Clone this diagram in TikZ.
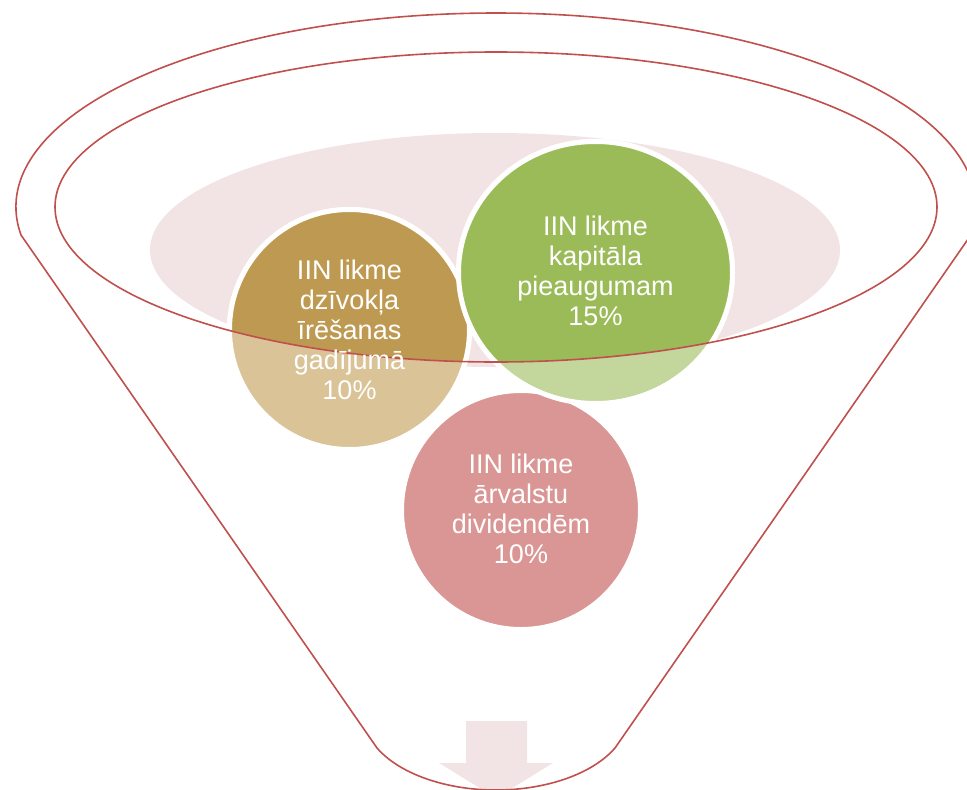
\documentclass[tikz,border=0pt]{standalone}
\usepackage{fontspec}
\setmainfont{Liberation Sans}
\usetikzlibrary{shapes.geometric}
\definecolor{funnelred}{RGB}{192,80,77}
\definecolor{pinkfill}{RGB}{242,228,228}
\definecolor{goldfull}{RGB}{190,153,81}
\definecolor{goldlight}{RGB}{217,195,151}
\definecolor{greenfull}{RGB}{155,187,89}
\definecolor{greenlight}{RGB}{195,214,155}
\definecolor{redlight}{RGB}{217,150,148}
\tikzset{
  funnelline/.style={draw=funnelred, line width=1.6pt},
  bubble/.style={draw=white, line width=5pt},
  bubbletext/.style={text=white, align=center, inner sep=0pt,
    font=\fontsize{27}{30}\selectfont},
}
\begin{document}
\begin{tikzpicture}[x=1pt,y=-1pt]
\useasboundingbox (0,0) rectangle (967,790);
\clip (0,0) rectangle (967,790);
% pink top ellipse
\fill[pinkfill] (495,250) ellipse [x radius=345, y radius=117];
% light (outside the funnel mouth) bubbles
\path[bubble, fill=goldlight] (349.5,329.5) circle [radius=120];
\path[bubble, fill=redlight] (521,510) circle [radius=119.5];
\path[bubble, fill=greenlight] (595.5,272.5) ellipse [x radius=137, y radius=131];
% full-colour parts inside the funnel mouth
\begin{scope}
  \clip (496,207) ellipse [x radius=441, y radius=155];
  \path[bubble, fill=goldfull] (349.5,329.5) circle [radius=120];
  \path[bubble, fill=greenfull] (595.5,272.5) ellipse [x radius=137, y radius=131];
\end{scope}
% arrow
\fill[pinkfill] (466,721) -- (527,721) -- (527,763) -- (553,763) -- (496,798)
  -- (439,763) -- (466,763) -- cycle;
% funnel outlines
\draw[funnelline] (21,235) arc[start angle=171.7, end angle=368.3, x radius=480, y radius=194]
  -- (615,748) arc[start angle=26.1, end angle=153.9, x radius=132.5, y radius=75] -- cycle;
\draw[funnelline] (496,207) ellipse [x radius=441, y radius=155];
% texts
\node[bubbletext] (tgold) at (349.5,329.5) {IIN likme\\dzīvokļa\\īrēšanas\\gadījumā\\10\%};
\node[bubbletext] (tgreen) at (595.5,271) {IIN likme\\kapitāla\\pieaugumam\\15\%};
\node[bubbletext] (tred) at (521,509) {IIN likme\\ārvalstu\\dividendēm\\10\%};
\end{tikzpicture}
\end{document}
